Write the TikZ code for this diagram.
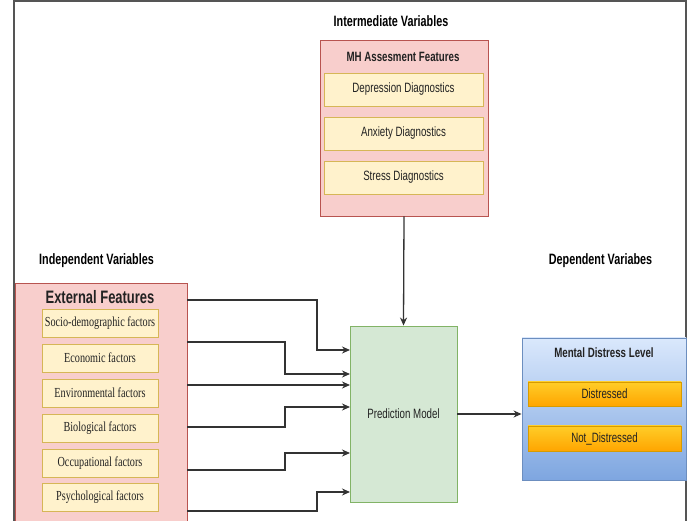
\documentclass[tikz,border=0pt]{standalone}
\usepackage{fontspec}
\setmainfont{Liberation Sans}
\newfontfamily\nsans[FakeStretch=0.72]{Liberation Sans}
\newfontfamily\nserif[FakeStretch=0.74]{Liberation Serif}
\usetikzlibrary{arrows.meta}
\definecolor{pinkfill}{HTML}{F8CECC}
\definecolor{pinkline}{HTML}{B85450}
\definecolor{yelfill}{HTML}{FFF2CC}
\definecolor{yelline}{HTML}{D6B656}
\definecolor{grnfill}{HTML}{D5E8D4}
\definecolor{grnline}{HTML}{82B366}
\definecolor{bluetop}{HTML}{DAE8FC}
\definecolor{bluebot}{HTML}{7EA6E0}
\definecolor{blueline}{HTML}{6C8EBF}
\definecolor{orgtop}{HTML}{FFCD28}
\definecolor{orgbot}{HTML}{FFA500}
\definecolor{orgline}{HTML}{D79B00}
\definecolor{txt}{HTML}{222222}
\definecolor{frame}{HTML}{555555}
\definecolor{conncol}{HTML}{333333}
\tikzset{
  header/.style={inner sep=0pt, font=\nsans\bfseries\fontsize{15}{17}\selectfont, text=black},
  container/.style={draw=pinkline, fill=pinkfill, line width=0.9pt, inner sep=0pt},
  subtitle/.style={inner sep=0pt, font=\nsans\bfseries\fontsize{13.5}{15}\selectfont, text=txt},
  itembox/.style={draw=yelline, fill=yelfill, line width=0.9pt, inner sep=0pt, text=txt,
    font=\nsans\fontsize{13.5}{15}\selectfont},
  factorbox/.style={draw=yelline, fill=yelfill, line width=0.9pt, inner sep=0pt, text=txt,
    minimum width=116pt, minimum height=28pt, font=\nserif\fontsize{13.8}{15}\selectfont},
  modelbox/.style={draw=grnline, fill=grnfill, line width=0.9pt, inner sep=0pt, text=txt,
    font=\nsans\fontsize{13.5}{15}\selectfont},
  outbox/.style={draw=blueline, top color=bluetop, bottom color=bluebot, line width=0.9pt, inner sep=0pt},
  classbox/.style={draw=orgline, top color=orgtop, bottom color=orgbot, line width=0.9pt, inner sep=0pt,
    minimum width=153pt, text=txt, font=\nsans\fontsize{13.5}{15}\selectfont},
  conn/.style={draw=conncol, line width=1.3pt, -{Stealth[length=8pt,width=7pt]}},
}
\begin{document}
\begin{tikzpicture}[x=1pt, y=-1pt]
\useasboundingbox (0,0) rectangle (694,521);
\clip (0,0) rectangle (694,521);
\fill[white] (0,0) rectangle (694,521);
% outer frame
\draw[frame, line width=2pt] (14,530) -- (14,1.5) -- (686,1.5) -- (686,530);

% headers
\node[header] (hInt) at (391,21) {Intermediate Variables};
\node[header] (hInd) at (96.5,261) {Independent Variables};
\node[header] (hDep) at (600.5,261) {Dependent Variabes};

% MH assessment container
\node[container, minimum width=168pt, minimum height=176pt] (mh) at (404,128) {};
\node[subtitle] (mhT) at (403,57) {MH Assesment Features};
\node[itembox, minimum width=159pt, minimum height=33pt] (dep) at (403.5,89.5) {Depression Diagnostics};
\node[itembox, minimum width=159pt, minimum height=33pt] (anx) at (403.5,133.5) {Anxiety Diagnostics};
\node[itembox, minimum width=159pt, minimum height=33pt] (str) at (403.5,177.5) {Stress Diagnostics};

% external features container
\node[container, minimum width=172pt, minimum height=247pt] (ext) at (101,406.5) {};
\node[inner sep=0pt, font=\nsans\bfseries\fontsize{18}{20}\selectfont, text=txt] (extT) at (100,297) {External Features};
\node[factorbox] (f1) at (100,323) {Socio-demographic factors};
\node[factorbox] (f2) at (100,358) {Economic factors};
\node[factorbox] (f3) at (100,393) {Environmental factors};
\node[factorbox] (f4) at (100,428) {Biological factors};
\node[factorbox] (f5) at (100,463) {Occupational factors};
\node[factorbox] (f6) at (100,497) {Psychological factors};

% prediction model
\node[modelbox, minimum width=107pt, minimum height=176pt] (pm) at (403.5,414) {Prediction Model};

% output container
\node[outbox, minimum width=164pt, minimum height=142pt] (mdl) at (604,409) {};
\node[subtitle] (mdlT) at (604,353) {Mental Distress Level};
\node[classbox, minimum height=24pt] (dis) at (604.5,394) {Distressed};
\node[classbox, minimum height=25pt] (nd) at (604.5,438.5) {Not\_Distressed};

% connector end points
\coordinate (s1) at (187,300); \coordinate (e1) at (350,350);
\coordinate (s2) at (187,342); \coordinate (e2) at (350,374);
\coordinate (s3) at (187,385); \coordinate (e3) at (350,385);
\coordinate (s4) at (187,427); \coordinate (e4) at (350,407);
\coordinate (s5) at (187,470); \coordinate (e5) at (350,453);
\coordinate (s6) at (187,511); \coordinate (e6) at (350,492);

\draw[conn] (s1) -- (317,300) -- (317,350) -- (e1);
\draw[conn] (s2) -- (285,342) -- (285,374) -- (e2);
\draw[conn] (s3) -- (e3);
\draw[conn] (s4) -- (285,427) -- (285,407) -- (e4);
\draw[conn] (s5) -- (285,470) -- (285,453) -- (e5);
\draw[conn] (s6) -- (317,511) -- (317,492) -- (e6);

\draw[conn] (mh.south) -- (pm.north);
\draw[conn] (pm.east) -- (mdl.west |- pm.east);
\end{tikzpicture}
\end{document}
